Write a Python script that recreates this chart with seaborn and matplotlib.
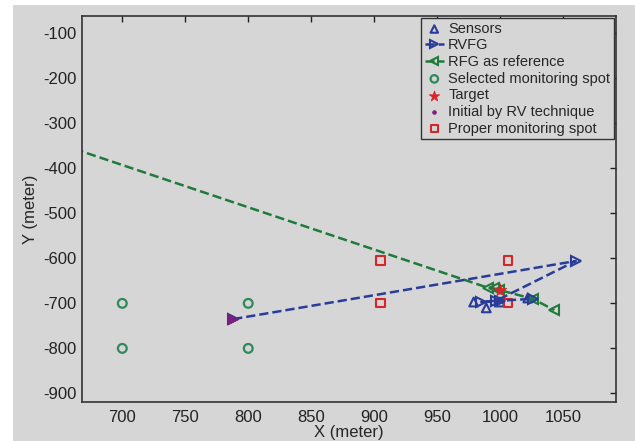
import numpy as np
import pandas as pd
import matplotlib
matplotlib.use("Agg")
import matplotlib.pyplot as plt
import matplotlib.patches as mpatches
import seaborn as sns

# ---- data ----
sensors_x = [979, 989, 1000, 1022]
sensors_y = [-697, -710, -697, -688]

rvfg_x = [788, 1060, 997, 985, 1000, 1026]
rvfg_y = [-735, -606, -694, -697, -694, -690]

rfg_x = [600, 990, 995, 999, 1026, 1043]
rfg_y = [-299, -665, -667, -670, -690, -715]

selected_x = [700, 700, 800, 800]
selected_y = [-700, -800, -700, -800]

target_x = [1000]
target_y = [-670]

initial_x = [788]
initial_y = [-735]

proper_x = [905, 905, 1006, 1006]
proper_y = [-605, -700, -605, -700]

xticks = [700, 750, 800, 850, 900, 950, 1000, 1050]
yticks = [-100, -200, -300, -400, -500, -600, -700, -800, -900]

BG = "#d6d6d6"
BLUE = "#2a3c9a"
GREEN = "#1f7a3c"
CGREEN = "#2e8a5a"
RED = "#d8252a"
PURPLE = "#7a1f80"

sns.set_style("white")
plt.rcParams["font.family"] = ["Liberation Sans", "DejaVu Sans"]
plt.rcParams["axes.unicode_minus"] = False

W, H = 635, 441
fig = plt.figure(figsize=(W / 100, H / 100), dpi=100)
fig.patch.set_facecolor("white")
fig.patches.append(mpatches.Rectangle((13 / W, 0), 1 - 13 / W, 1 - 5 / H,
                                      transform=fig.transFigure, facecolor=BG,
                                      edgecolor="none", zorder=-10))

ax = fig.add_axes([82 / W, 1 - 402 / H, (616 - 82) / W, (402 - 16) / H])
ax.set_facecolor(BG)

df_rfg = pd.DataFrame({"x": rfg_x, "y": rfg_y})
df_rvfg = pd.DataFrame({"x": rvfg_x, "y": rvfg_y})

sns.lineplot(data=df_rfg, x="x", y="y", sort=False, estimator=None, ax=ax,
             color=GREEN, linestyle="--", linewidth=1.8, marker="<",
             markersize=6.5, markerfacecolor="none", markeredgecolor=GREEN,
             markeredgewidth=1.5, label="RFG as reference")
sns.lineplot(data=df_rvfg, x="x", y="y", sort=False, estimator=None, ax=ax,
             color=BLUE, linestyle="--", linewidth=1.8, marker=">",
             markersize=6.5, markerfacecolor="none", markeredgecolor=BLUE,
             markeredgewidth=1.5, label="RVFG")

sns.scatterplot(x=sensors_x, y=sensors_y, ax=ax, marker="^", s=40,
                facecolor="none", edgecolor=BLUE, linewidth=1.5, label="Sensors")
sns.scatterplot(x=selected_x, y=selected_y, ax=ax, marker="o", s=40,
                facecolor="none", edgecolor=CGREEN, linewidth=1.6,
                label="Selected monitoring spot")
sns.scatterplot(x=target_x, y=target_y, ax=ax, marker="*", s=90,
                color=RED, edgecolor=RED, linewidth=0.5, label="Target", zorder=5)
sns.scatterplot(x=initial_x, y=initial_y, ax=ax, marker=">", s=60,
                color=PURPLE, edgecolor=PURPLE, linewidth=0.5, zorder=6)
sns.scatterplot(x=initial_x, y=initial_y, ax=ax, marker=".", s=40,
                color=PURPLE, edgecolor=PURPLE, label="Initial by RV technique",
                zorder=6)
sns.scatterplot(x=proper_x, y=proper_y, ax=ax, marker="s", s=35,
                facecolor="none", edgecolor=RED, linewidth=1.5,
                label="Proper monitoring spot")

ax.set_xlim(668, 1092)
ax.set_ylim(-919, -62)
ax.set_xticks(xticks)
ax.set_yticks(yticks)
ax.set_xticklabels([str(v) for v in xticks])
ax.set_yticklabels([str(v) for v in yticks])
ax.tick_params(axis="both", direction="in", length=4, width=1, top=True,
               right=True, labelsize=12, colors="#222222")
ax.tick_params(axis="x", pad=6)
ax.tick_params(axis="y", pad=4)
for s in ax.spines.values():
    s.set_color("#333333")
    s.set_linewidth(1.2)

ax.set_xlabel("X (meter)", fontsize=12, labelpad=0)
ax.set_ylabel("Y (meter)", fontsize=12, labelpad=4)

handles, labels = ax.get_legend_handles_labels()
order = ["Sensors", "RVFG", "RFG as reference", "Selected monitoring spot",
         "Target", "Initial by RV technique", "Proper monitoring spot"]
hmap = dict(zip(labels, handles))
leg = ax.legend([hmap[o] for o in order], order, loc="upper right",
                fontsize=10.5, frameon=True, fancybox=False, framealpha=1,
                facecolor=BG, edgecolor="#333333", borderaxespad=0.15,
                handlelength=1.3, handletextpad=0.3, labelspacing=0.18,
                borderpad=0.25, markerscale=0.85)
leg.get_frame().set_linewidth(1.0)

fig.savefig("out.png", dpi=100, facecolor=fig.get_facecolor())
